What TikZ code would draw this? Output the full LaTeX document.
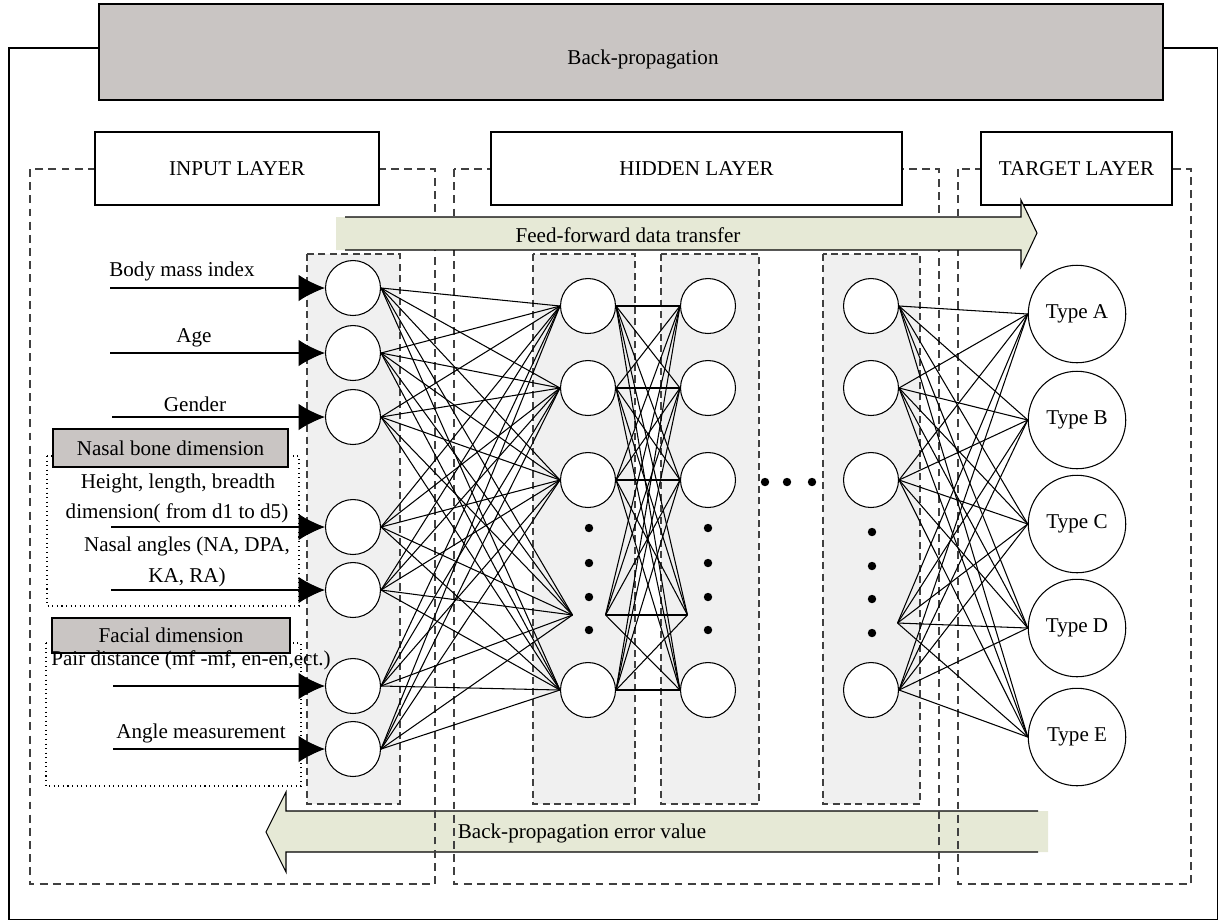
\documentclass[tikz,border=0pt]{standalone}
\usepackage{fontspec}
\setmainfont{Liberation Serif}
\usepackage{xcolor}
\usepackage{tikz}
\usetikzlibrary{arrows.meta}

\definecolor{bannergray}{RGB}{201,197,195}
\definecolor{colgray}{RGB}{240,240,240}
\definecolor{arrowfill}{RGB}{230,233,214}

\begin{document}
\begin{tikzpicture}[x=0.02cm, y=-0.02cm, line width=0.6pt, font=\fontsize{12}{14}\selectfont,
  neuron/.style={circle, draw, fill=white, minimum size=1.1cm, inner sep=0pt},
  target/.style={circle, draw, fill=white, minimum size=1.95cm, inner sep=0pt},
  hub/.style={inner sep=0pt, minimum height=0pt},
  layer/.style={draw=black!75, dash pattern=on 4.5pt off 3pt},
  column/.style={draw=black!75, fill=colgray, dash pattern=on 4pt off 2.5pt},
  title/.style={draw, fill=white, line width=0.8pt, minimum height=1.46cm},
  group/.style={draw, dotted},
  tag/.style={draw, fill=bannergray, line width=0.8pt},
  feed/.style={-{Latex[length=15pt,width=15pt]}},
  dot/.style={circle, fill=black, inner sep=0pt, minimum size=4.8pt}]
\useasboundingbox (0,0) rectangle (1219,921);

% frame and banner
\draw (9,48) rectangle (1217.5,919.5);
\filldraw[fill=bannergray, line width=0.8pt] (99,4) rectangle (1163,100);
\node (bp) at (643,59) {Back-propagation};

% back-propagation arrow
\fill[arrowfill] (1048,811) -- (286,811) -- (286,792) -- (266,832) -- (286,872) -- (286,852) -- (1048,852) -- cycle;
\draw (1038,811) -- (286,811) -- (286,792) -- (266,832) -- (286,872) -- (286,852) -- (1038,852);
\node (bperr) at (582,833) {Back-propagation error value};

% layers
\draw[layer] (30,169) rectangle (435,884);
\draw[layer] (454,169) rectangle (939,884);
\draw[layer] (958,169) rectangle (1191,884);
\node[title, minimum width=5.68cm] (inlayer) at (237,168.5) {INPUT LAYER};
\node[title, minimum width=8.22cm] (hidlayer) at (696.5,168.5) {HIDDEN LAYER};
\node[title, minimum width=3.82cm] (tarlayer) at (1076.5,168.5) {TARGET LAYER};

% feed-forward arrow
\fill[arrowfill] (336,217) -- (1021,217) -- (1021,200) -- (1037,233) -- (1021,267) -- (1021,250) -- (336,250) -- cycle;
\draw (345,217) -- (1021,217) -- (1021,200) -- (1037,233) -- (1021,267) -- (1021,250) -- (345,250);
\node (ff) at (628,235) {Feed-forward data transfer};

% columns
\draw[column] (307,254) rectangle (400,804);
\draw[column] (533,254) rectangle (635,804);
\draw[column] (661,254) rectangle (759,804);
\draw[column] (823,254) rectangle (920,804);

% input groups
\draw[group] (47,456) rectangle (299,606);
\node[tag, minimum width=4.7cm, minimum height=0.76cm] (nasal) at (170.5,448) {Nasal bone dimension};
\draw[group] (46,643) rectangle (301,786);
\node[tag, minimum width=4.76cm, minimum height=0.7cm] (facial) at (171,635.5) {Facial dimension};

% neurons
\foreach \n/\y in {1/288,2/353,3/417,4/527,5/590,6/686,7/749}
  \node[neuron] (i\n) at (353,\y) {};
\foreach \n/\y in {1/306,2/388,3/480,5/690} {
  \node[neuron] (a\n) at (588,\y) {};
  \node[neuron] (b\n) at (708,\y) {};
  \node[neuron] (c\n) at (871,\y) {};
}
\node[hub, minimum width=0.64cm] (a4) at (589,615) {};
\node[hub, minimum width=0.8cm] (b4) at (708,615) {};
\node[hub, minimum width=1.04cm] (c4) at (871,623) {};
\foreach \n/\y/\t in {1/314/A,2/420/B,3/524/C,4/628/D,5/737/E}
  \node[target] (t\n) at (1077,\y) {Type \t};

% dots
\foreach \y in {528,563,597,630} {
  \node[dot] at (589,\y) {};
  \node[dot] at (708,\y) {};
}
\foreach \y in {532,566,599,633}
  \node[dot] at (872,\y) {};
\foreach \x in {765,787,812}
  \node[dot] at (\x,482) {};

% weights
\foreach \i in {1,...,7}
  \foreach \j in {1,...,5}
    \draw (i\i.east) -- (a\j.west);
\foreach \i in {1,...,5}
  \foreach \j in {1,...,5}
    \draw (a\i.east) -- (b\j.west);
\foreach \i in {1,...,5}
  \foreach \j in {1,...,5}
    \draw (c\i.east) -- (t\j.west);

% inputs
\foreach \n/\y/\x in {1/288/110,2/353/110,3/417/112,4/527/111,5/590/111,6/686/113,7/749/113} {
  \coordinate (s\n) at (\x,\y);
  \draw[feed] (s\n) -- (i\n);
}
\node (bmi) at (182,271) {Body mass index};
\node (age) at (194,338) {Age};
\node (gender) at (195,404) {Gender};
\node (hlb) at (178,483) {Height, length, breadth};
\node (dim) at (177,513) {dimension( from d1 to d5)};
\node (angles) at (187,546) {Nasal angles (NA, DPA,};
\node (kara) at (187,577) {KA, RA)};
\node (pair) at (191,660) {Pair distance (mf -mf, en-en,ect.)};
\node (angle) at (201,733) {Angle measurement};

\end{tikzpicture}
\end{document}
